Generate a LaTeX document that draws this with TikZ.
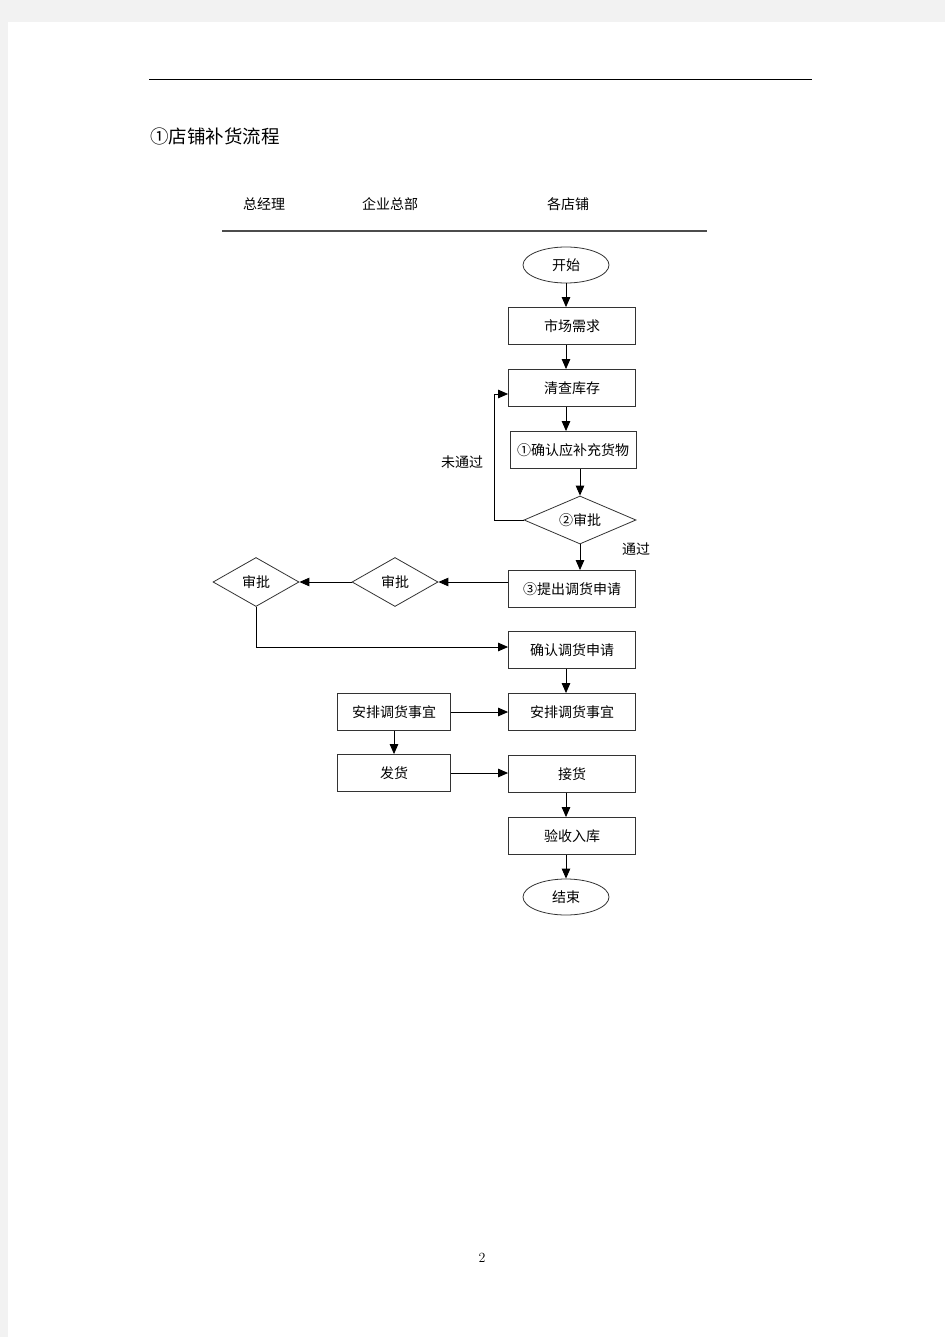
\documentclass[tikz,border=0pt]{standalone}
\usepackage{fontspec}
\newfontfamily\cjk{Noto Sans CJK SC}
\usetikzlibrary{shapes.geometric,arrows.meta}
\begin{document}
\begin{tikzpicture}[x=1pt,y=-1pt,
    txt/.style={font=\cjk\fontsize{14}{16}\selectfont,inner sep=0pt},
    box/.style={txt,draw=black!80,line width=0.8pt,minimum width=127pt,minimum height=37pt},
    sbox/.style={box,minimum width=113pt},
    term/.style={txt,ellipse,draw=black!80,line width=0.8pt,minimum width=86pt,minimum height=36pt},
    dia/.style={txt,diamond,aspect=1.75,draw=black!80,line width=0.8pt,minimum width=86pt,minimum height=49pt},
    flow/.style={line width=0.9pt,-{Triangle[length=10pt,width=8.5pt]}}]
    % page
    \fill[black!5] (0,0) rectangle (945,1337);
    \fill[white] (8,22) rectangle (945,1337);
    \useasboundingbox (0,0) rectangle (945,1337);
    \draw[line width=0.8pt] (149,79) -- (812,79);
    \node[anchor=west,font=\cjk\fontsize{18.5}{20}\selectfont,inner sep=0pt] (title) at (150,136) {①店铺补货流程};

    % lanes
    \node[txt] (gm) at (264,204) {总经理};
    \node[txt] (hq) at (390,204) {企业总部};
    \node[txt] (shop) at (568,204) {各店铺};
    \draw[black!70,line width=1.5pt] (222,231) -- (707,231);

    % shops
    \node[term] (start) at (566,265) {开始};
    \node[box] (demand) at (572,326) {市场需求};
    \node[box] (check) at (572,388) {清查库存};
    \node[box,minimum width=126pt] (confirm) at (573,450) {①确认应补充货物};
    \node[dia,aspect=2.33,minimum width=112pt,minimum height=48pt] (audit) at (580,520) {②审批};
    \node[box] (apply) at (572,589) {③提出调货申请};
    \node[box] (confirmapp) at (572,650) {确认调货申请};
    \node[box] (arrange) at (572,712) {安排调货事宜};
    \node[box] (receive) at (572,774) {接货};
    \node[box] (accept) at (572,836) {验收入库};
    \node[term] (finish) at (566,897) {结束};

    % headquarters / manager
    \node[dia] (hqaudit) at (395,582) {审批};
    \node[dia] (gmaudit) at (256,582) {审批};
    \node[sbox] (hqarrange) at (394,712) {安排调货事宜};
    \node[sbox] (ship) at (394,773) {发货};

    \node[txt] (nopass) at (462,462) {未通过};
    \node[txt] (pass) at (636,549) {通过};
    \coordinate (back) at (494,520);

    \draw[flow] (start) -- (start |- demand.north);
    \draw[flow] (demand.south -| start) -- (check.north -| start);
    \draw[flow] (check.south -| start) -- (confirm.north -| start);
    \draw[flow] (audit.north |- confirm.south) -- (audit.north);
    \draw[flow] (audit.west) -- (back) |- ([yshift=-6pt]check.west);
    \draw[flow] (audit.south) -- (audit.south |- apply.north);
    \draw[flow] ([yshift=7pt]apply.west) -- (hqaudit.east);
    \draw[flow] (hqaudit.west) -- (gmaudit.east);
    \draw[flow] (gmaudit.south) |- ([yshift=3pt]confirmapp.west);
    \draw[flow] (confirmapp.south -| start) -- (arrange.north -| start);
    \draw[flow] (hqarrange.east) -- (arrange.west);
    \draw[flow] (hqarrange.south) -- (ship.north);
    \draw[flow] (ship.east) -- (ship.east -| receive.west);
    \draw[flow] (receive.south -| start) -- (accept.north -| start);
    \draw[flow] (accept.south -| start) -- (finish.north);

    \node[font=\fontsize{14}{16}\selectfont] (page) at (482,1258) {2};
\end{tikzpicture}
\end{document}
